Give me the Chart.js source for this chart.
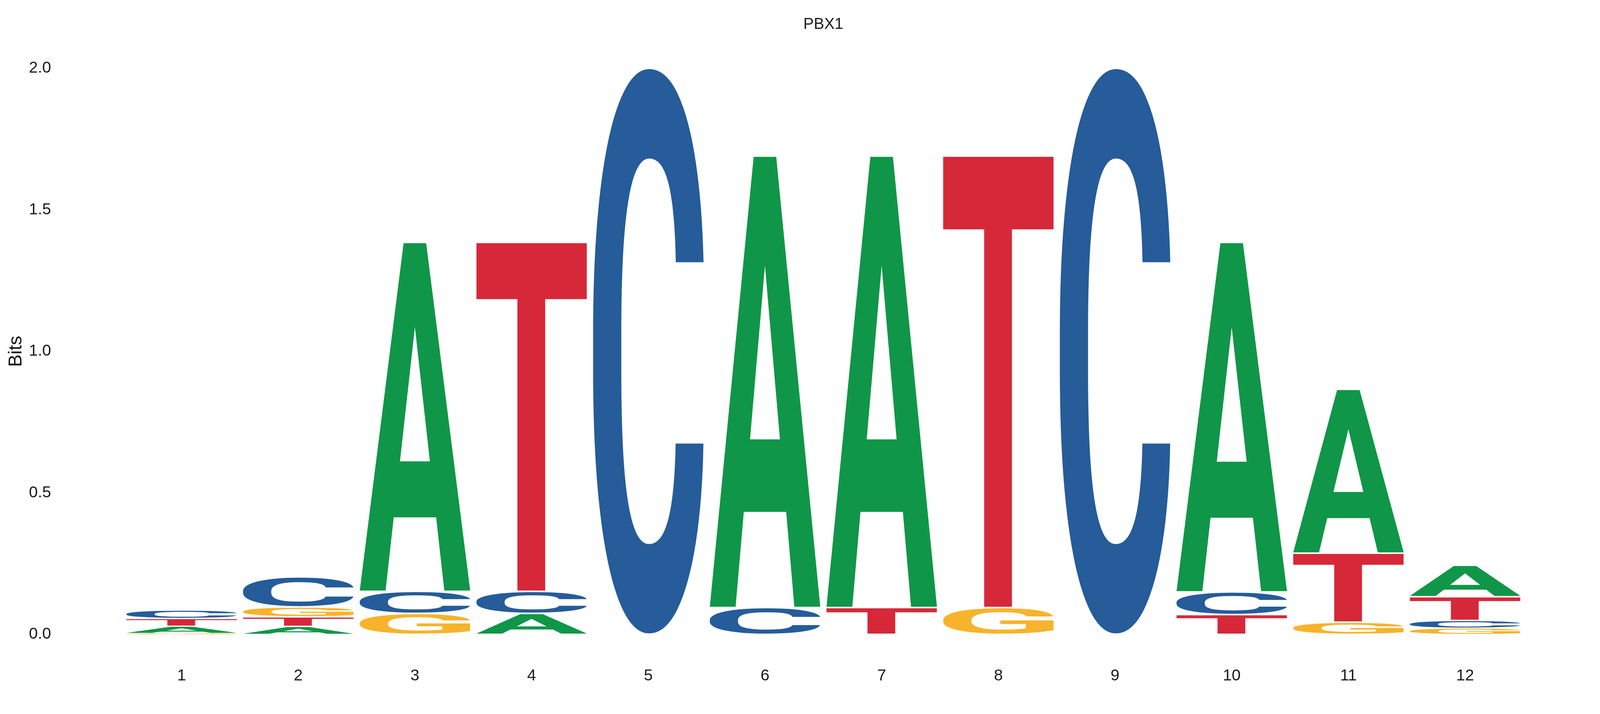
<!DOCTYPE html>
<html>
<head>
<meta charset="utf-8">
<script src="https://cdn.jsdelivr.net/npm/chart.js@4.4.1/dist/chart.umd.min.js"></script>
<style>
  html, body { margin: 0; padding: 0; background: #ffffff; overflow: hidden; }
  canvas { display: block; }
</style>
</head>
<body>
<canvas id="logo"></canvas>
<script>
// ---- data (information content in bits per letter at each position) ----
const positions = ['1','2','3','4','5','6','7','8','9','10','11','12'];
const bitsA = [0.026, 0.028, 1.233, 0.074, 0.000, 1.595, 1.595, 0.000, 0.000, 1.235, 0.579, 0.111];
const bitsC = [0.030, 0.106, 0.078, 0.078, 2.000, 0.095, 0.000, 0.000, 2.000, 0.080, 0.000, 0.027];
const bitsG = [0.003, 0.035, 0.074, 0.000, 0.000, 0.000, 0.000, 0.095, 0.000, 0.000, 0.043, 0.022];
const bitsT = [0.027, 0.034, 0.000, 1.233, 0.000, 0.000, 0.095, 1.595, 0.000, 0.070, 0.244, 0.084];
const yTicks = [0, 0.5, 1.0, 1.5, 2.0];
const titleText = 'PBX1';
const yTitle = 'Bits';

const letters = ['A', 'C', 'G', 'T'];
const letterBits = { A: bitsA, C: bitsC, G: bitsG, T: bitsT };
const letterColors = { A: '#109648', C: '#255C99', G: '#F7B32B', T: '#D62839' };

// stacked ranges per position: smallest letter at the bottom
const ranges = { A: [], C: [], G: [], T: [] };
positions.forEach((p, i) => {
  const order = letters.slice().sort((a, b) => letterBits[a][i] - letterBits[b][i]);
  let acc = 0;
  order.forEach(l => {
    const v = letterBits[l][i];
    ranges[l][i] = [acc, acc + v];
    acc += v;
  });
});

// canvas sized to the real viewport; layout kept proportional to the reference
const W = window.innerWidth || 4350;
const H = window.innerHeight || 1829;
const sx = W / 4350;
const sy = H / 1829;
const canvas = document.getElementById('logo');
canvas.width = W; canvas.height = H;
canvas.style.width = W + 'px'; canvas.style.height = H + 'px';

const GLYPH_FONT = 'bold 1000px Roboto, "Liberation Sans", Arial, sans-serif';
const glyphBox = {};
function measureGlyph(letter) {
  if (glyphBox[letter]) return glyphBox[letter];
  const c = document.createElement('canvas');
  c.width = 1600; c.height = 1600;
  const g = c.getContext('2d');
  g.font = GLYPH_FONT;
  g.textAlign = 'left';
  g.textBaseline = 'alphabetic';
  g.fillStyle = '#000';
  const ox = 300, oy = 1250;
  g.fillText(letter, ox, oy);
  const d = g.getImageData(0, 0, c.width, c.height).data;
  let minX = c.width, minY = c.height, maxX = -1, maxY = -1;
  for (let y = 0; y < c.height; y++) {
    for (let x = 0; x < c.width; x++) {
      if (d[(y * c.width + x) * 4 + 3] > 100) {
        if (x < minX) minX = x; if (x > maxX) maxX = x;
        if (y < minY) minY = y; if (y > maxY) maxY = y;
      }
    }
  }
  glyphBox[letter] = { dx: ox - minX, dy: oy - minY, w: maxX - minX + 1, h: maxY - minY + 1 };
  return glyphBox[letter];
}

const glyphPlugin = {
  id: 'glyphs',
  afterDatasetsDraw(chart) {
    const ctx = chart.ctx;
    chart.data.datasets.forEach((ds, di) => {
      const meta = chart.getDatasetMeta(di);
      const letter = ds.label;
      const box = measureGlyph(letter);
      meta.data.forEach((el) => {
        const props = el.getProps(['x', 'y', 'base', 'width'], true);
        const top = Math.min(props.y, props.base);
        const bottom = Math.max(props.y, props.base);
        const h = bottom - top;
        if (h < 0.5) return;
        const inset = Math.min(2, h * 0.08);
        const left = props.x - props.width / 2;
        const w = props.width;
        ctx.save();
        ctx.font = GLYPH_FONT;
        ctx.textAlign = 'left';
        ctx.textBaseline = 'alphabetic';
        ctx.translate(left, top + inset);
        ctx.scale(w / box.w, (h - 2 * inset) / box.h);
        ctx.fillStyle = letterColors[letter];
        ctx.fillText(letter, box.dx, box.dy);
        ctx.restore();
      });
    });
  }
};

const datasets = letters.map(l => ({
  label: l,
  data: ranges[l],
  backgroundColor: 'rgba(0,0,0,0)',
  borderWidth: 0,
  stack: 'logo',
  barPercentage: 0.946,
  categoryPercentage: 1.0
}));

const FONT = '"Liberation Sans", Arial, sans-serif';

new Chart(canvas, {
  type: 'bar',
  data: { labels: positions, datasets },
  plugins: [glyphPlugin],
  options: {
    responsive: false,
    maintainAspectRatio: false,
    animation: false,
    devicePixelRatio: 1,
    layout: { padding: { left: 0, right: Math.round(208 * sx), top: 0, bottom: Math.round(64 * sy) } },
    plugins: {
      legend: { display: false },
      tooltip: { enabled: false },
      title: {
        display: true,
        text: titleText,
        fullSize: false,
        color: '#1a1a1a',
        font: { family: FONT, size: 40, weight: 'normal' },
        padding: { top: 39 * sy, bottom: 175 * sy - 39 * sy - 48 }
      }
    },
    scales: {
      x: {
        stacked: true,
        grid: { display: false, drawTicks: false },
        border: { display: false },
        afterFit(scale) { scale.height = 140 * sy; },
        ticks: {
          color: '#1a1a1a',
          padding: 82 * sy,
          maxRotation: 0,
          font: { family: FONT, size: 41 }
        }
      },
      y: {
        stacked: false,
        min: 0,
        max: 2,
        afterBuildTicks(scale) { scale.ticks = yTicks.map(v => ({ value: v })); },
        afterFit(scale) {
          scale.width = 335 * sx;
          scale.paddingTop = 0;
          scale.paddingBottom = 0;
        },
        grid: { display: false, drawTicks: false },
        border: { display: false },
        ticks: {
          color: '#1a1a1a',
          padding: 196 * sx,
          font: { family: FONT, size: 41 },
          callback: v => Number(v).toFixed(1)
        },
        title: {
          display: true,
          text: yTitle,
          color: '#111111',
          font: { family: FONT, size: 48 },
          padding: { top: 44 * sx - 28.8, bottom: 0 }
        }
      }
    }
  }
});
</script>
</body>
</html>
